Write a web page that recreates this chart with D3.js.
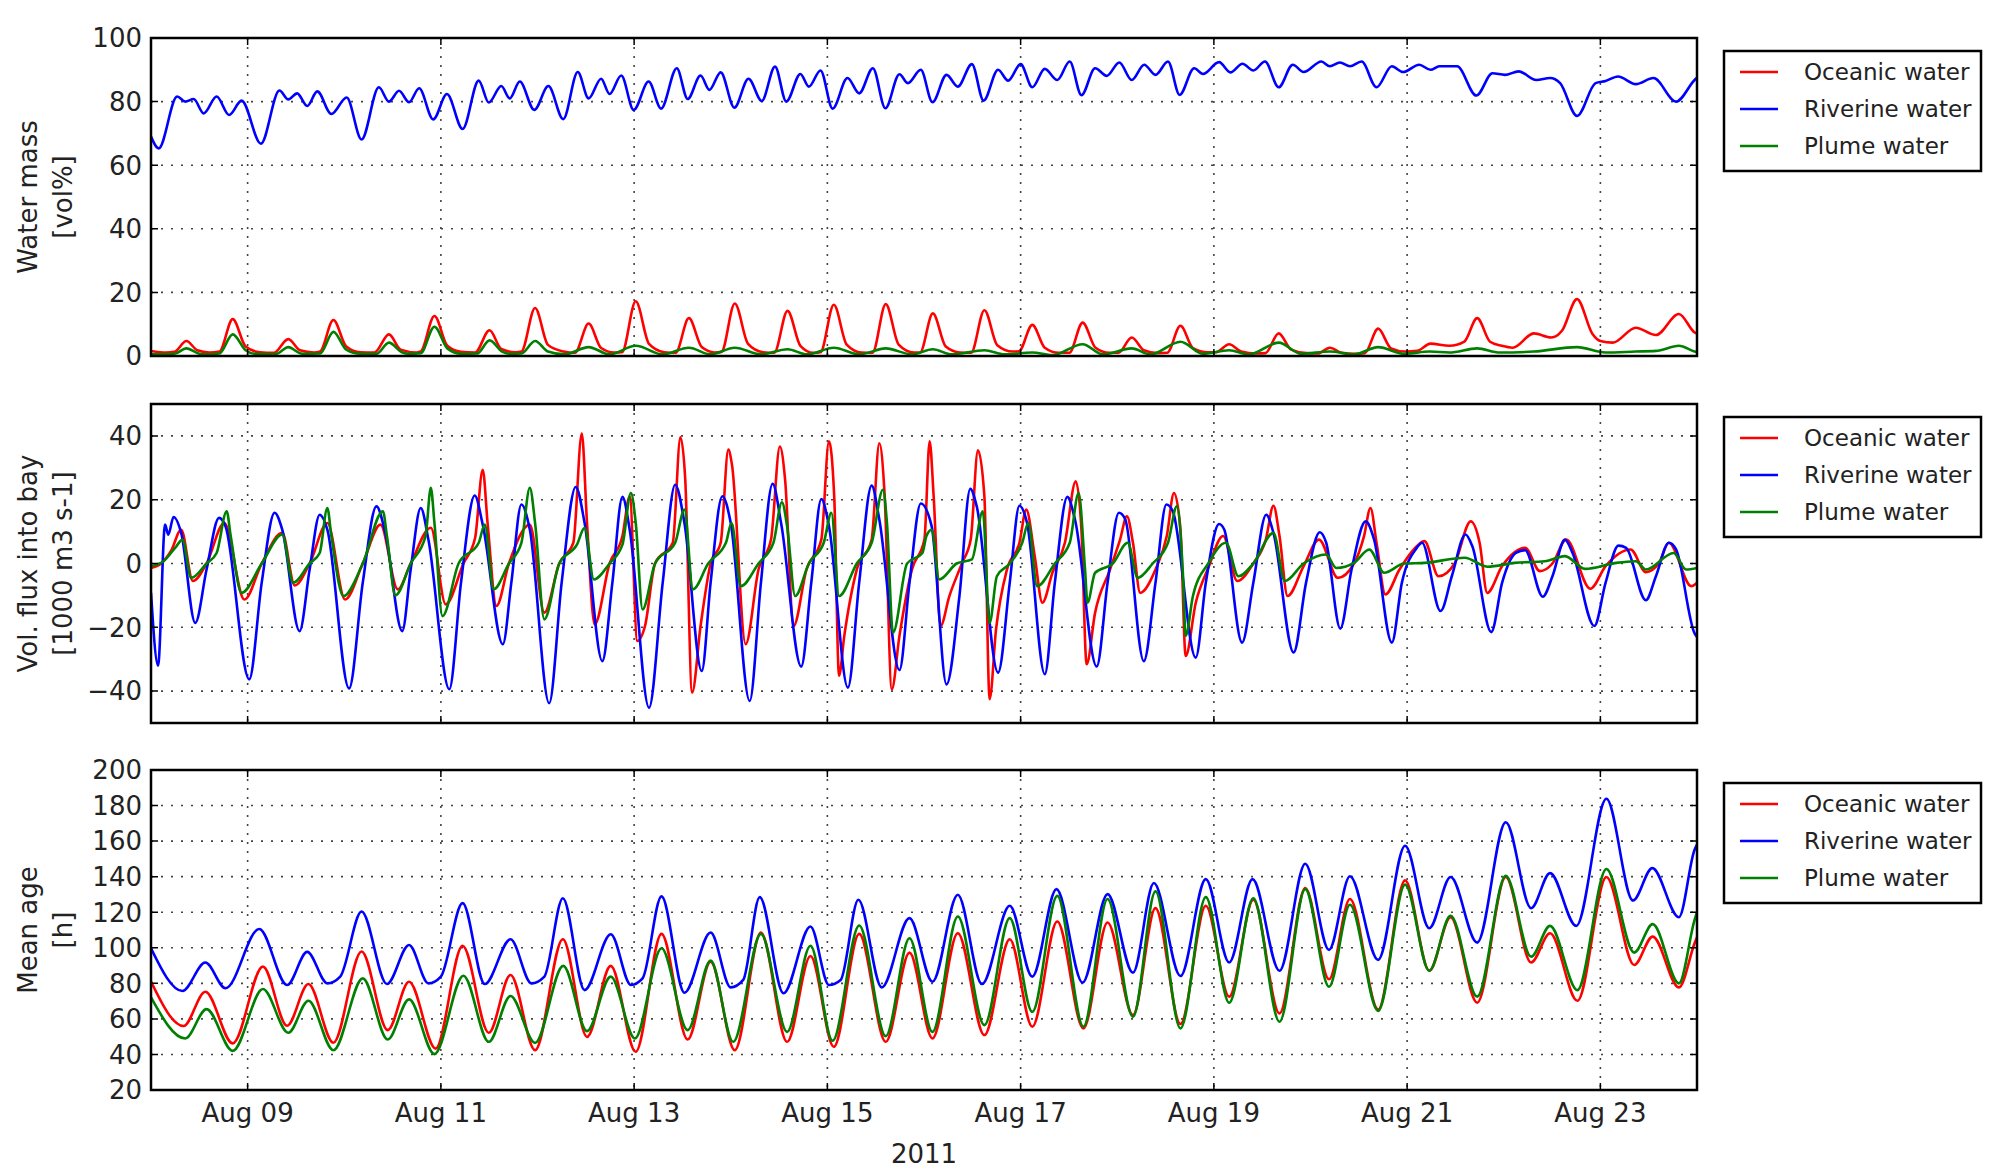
<!DOCTYPE html>
<html>
<head>
<meta charset="utf-8">
<script src="https://cdn.jsdelivr.net/npm/d3@7"></script>
<style>
  body { margin: 0; background: #fff; }
  text { font-family: "DejaVu Sans", sans-serif; fill: #222; }
</style>
</head>
<body>
<script>
// hours since 2011-08-08 00:00 UTC, value
const oceanicMass = [[0,1.6],[3.8,1.1],[5.8,1.3],[8.8,4.7],[11.5,1.8],[14.5,1.1],[17,1.4],[20.3,11.6],[23.5,3],[27,1.2],[30.5,1],[34.1,5.3],[37,1.8],[40.5,1.1],[42,1.4],[45.3,11.3],[48.5,3],[52,1.2],[55.5,1.1],[59.1,6.8],[62,2],[66,1.1],[67,1.4],[70.4,12.6],[73.6,3.2],[77,1.3],[80.5,1.1],[84.1,8.1],[87,2.2],[90.5,1.2],[92,1.4],[95.4,15.1],[98.6,3.5],[102.5,1.4],[105.3,1],[108.7,10.2],[111.8,2.5],[115,1.1],[117,1.2],[120.4,17.2],[123.7,3.8],[127.5,1.2],[130.3,1],[133.6,11.9],[136.8,2.8],[140,1.1],[141.7,1.3],[145,16.5],[148.3,3.8],[152,1.2],[154.8,1],[158.1,14.2],[161.3,3.2],[164.5,1],[166.3,1.2],[169.6,16.1],[172.8,3.6],[176.5,1.1],[179.2,1],[182.5,16.3],[185.7,3.6],[189.5,1.1],[191,1.1],[194.2,13.4],[197.4,3],[201,1.1],[203.7,1],[207,14.4],[210.2,3.4],[214,1.4],[215.6,1.5],[218.9,9.8],[222,2.6],[225.5,1],[228.1,1],[231.4,10.5],[234.6,2.6],[238,1],[240.3,1],[243.6,5.8],[246.6,1.8],[250,0.9],[252.4,1],[255.7,9.5],[258.8,2.5],[262.5,1.2],[264.5,1.2],[267.8,3.7],[270.8,1.4],[274.5,0.8],[276.8,0.9],[280.1,7.1],[283.2,2],[287,0.9],[289.8,0.8],[292.8,2.6],[295.8,1],[299,0.7],[301.5,0.9],[304.8,8.6],[308,2.4],[311.5,1.4],[314.5,1.6],[317.8,3.9],[322.5,3.2],[326.2,4.5],[329.4,11.9],[332.6,4.5],[335.5,3.2],[338.2,2.6],[343.5,7.1],[347.8,5.8],[350.5,8],[354.2,17.9],[358,7],[360,4.7],[363.1,4.2],[368.8,8.9],[373.8,6.6],[379.5,13.2],[383.4,7.4],[384,7]];
const riverineMass = [[0,69],[1.9,65.3],[6.5,81.6],[8.5,80],[10.6,80.8],[13.1,76.3],[16.3,81.6],[19.4,75.8],[22.5,80.3],[27.3,66.8],[31.9,83.5],[34.1,80.7],[36.3,82.6],[38.8,78.6],[41.3,83.2],[44.8,76.1],[48.6,81.3],[52.3,68.1],[56.6,84.5],[59.1,80],[61.6,83.4],[64.1,79.8],[66.6,84.2],[70.1,74.4],[73.5,82.4],[77.4,71.4],[81.4,86.6],[83.9,79.7],[87,84.9],[89.1,81],[91.6,86.3],[95.2,77.4],[98.7,84.9],[102.4,74.5],[106,89.3],[108.7,81],[111.8,87.2],[113.9,82.4],[116.8,88.2],[119.9,77.4],[123.6,86.3],[126.7,77.8],[130.6,90.5],[133.3,80.8],[136.5,88.2],[138.7,83.7],[141.5,89.2],[144.9,78.1],[148.4,87.2],[151.7,80.2],[155,91],[157.8,80],[161.3,88.7],[163.4,84.7],[166.3,89.8],[169.3,77.8],[173,87.4],[175.9,82.6],[179.3,90.5],[182.4,77.9],[185.9,88.6],[188,85.8],[191.2,90],[194.1,79.8],[197.6,88.4],[200.4,84.7],[203.9,91.8],[206.8,80.3],[210.4,90],[212.9,86.6],[216,91.8],[218.9,84.5],[222,90.3],[225.1,86.8],[228.2,92.6],[231.1,82],[234.5,90.5],[237.4,88.1],[240.5,92.3],[243.6,86.8],[246.7,91.6],[249.5,88.4],[252.6,92.6],[255.5,82.1],[259.1,90.5],[261.3,88.7],[265.3,92.4],[268.1,89.2],[271.1,91.9],[273.8,89.8],[276.7,92.6],[280.1,84.5],[283.6,91.6],[286.3,89.3],[290.7,92.6],[292.8,91.1],[295.3,92.3],[297.8,91.1],[300.7,92.6],[304.4,84.5],[308.2,91.1],[311,89.3],[315,91.6],[317.8,90],[320,91.1],[324.4,91.1],[329.2,81.9],[333.2,88.9],[336.3,88.4],[339.7,89.5],[344.1,86.8],[347.5,87.4],[350,85.8],[354.2,75.5],[358.8,85.8],[361.3,86.5],[364.4,87.9],[368.8,85.5],[373.2,87.4],[378.8,80],[383.4,86.8],[384,87.5]];
const plumeMass = [[0,0.5],[5.8,0.7],[8.8,2.4],[12,0.7],[13.1,0.5],[17,0.8],[20.3,6.8],[23.5,1.8],[25.7,0.7],[31,0.6],[34.1,2.8],[37,0.9],[38.2,0.7],[42,0.8],[45.3,7.6],[48.5,2],[52,0.7],[56,0.7],[59.1,4.2],[62.3,1.2],[63.9,0.7],[67,0.9],[70.4,9.2],[73.6,2.4],[77,0.7],[81,0.8],[84.1,4.9],[87.2,1.4],[89.1,0.7],[92,0.8],[95.4,4.7],[98.6,1.4],[102.7,0.5],[108.7,2.8],[113.9,0.5],[120.4,3.2],[127.1,0.5],[133.6,2.6],[139,0.5],[145,2.6],[151.5,0.5],[158.1,2.1],[163,0.5],[169.6,2.6],[175.9,0.5],[182.5,2.4],[189,0.5],[194.2,2.1],[198.9,0.5],[207,1.8],[212,0.5],[218.9,1.1],[223.9,0.3],[231.4,3.7],[236.4,0.5],[243.6,2.4],[248.2,0.5],[255.7,4.5],[261.3,0.7],[267.8,1.8],[272.6,0.5],[280.1,4.2],[285.7,0.7],[292.8,1.4],[298.8,0.5],[304.8,2.8],[311.3,0.7],[317.6,1.4],[322.5,1.1],[329.4,2.4],[335,1.1],[343.5,1.4],[354.2,2.8],[361.3,1.1],[368.8,1.4],[373.8,1.6],[379.5,3.2],[383.4,1.4],[384,1.2]];

const oceanicFlux = [[0,-1.4],[2.5,0],[5,4],[7.5,10.6],[10.4,-5.5],[13.8,0],[18.2,12.7],[23.2,-11.3],[27.5,0],[32.6,9.6],[35.7,-6.9],[39.4,0],[43.8,12.7],[48.2,-11.3],[52.6,0],[57,12.2],[61.3,-8.1],[64.5,0],[69.5,11.2],[73.2,-12.8],[77.6,0],[80.5,8],[82.4,29.4],[83.6,12.7],[85.8,-13.3],[88.9,0],[94.1,12.2],[97.7,-15.4],[101.4,0],[104.9,6.5],[107,40.7],[108.3,12.7],[110.2,-19.1],[113.9,0],[117.1,8.6],[118.9,21],[120.8,-24.3],[122.7,-19.6],[125.2,0],[129.6,6.5],[131.5,39.6],[132.7,26.3],[134.4,-40.5],[136.5,-19.6],[139,0],[141.5,6.5],[143.4,35.7],[144.3,31],[147.7,-25.3],[150.9,-1.9],[154,7.5],[156.2,36.7],[157.5,26.3],[159.6,-19.6],[162.8,-1.9],[166.5,7.5],[168.4,38.3],[169.7,21],[170.9,-35.2],[172.2,-22.7],[175.3,-1.9],[179,7.5],[180.9,37.7],[182.2,22],[184,-39.4],[185.9,-22.7],[189,-1.9],[192.1,7.5],[193.4,38.3],[194.4,21],[196.1,-19.6],[198.3,-10.2],[201.4,0],[203.6,7.5],[205.4,35.5],[207,21],[208.3,-42.5],[209.9,-20.6],[212.6,-1.9],[215.7,6.5],[217.4,16.9],[219.5,2.3],[221.4,-12.3],[223.9,-2.9],[227,6.5],[229.7,25.8],[231.1,10.6],[232.4,-31.6],[234.5,-15.4],[238.2,-1.9],[240.7,7.5],[242.4,14.8],[243.9,6.5],[245.7,-9.2],[249.5,-1.9],[252.3,8.6],[254.1,22.1],[255.7,10.6],[257,-29],[259.5,-12.3],[262.6,-1.4],[266.3,8.6],[269.8,-5.5],[273.8,0],[276.9,7.5],[278.8,18.1],[280.3,8.6],[282.3,-10.2],[286.3,-0.8],[290.1,7.5],[294.8,-4.5],[298.8,0],[301.3,8.6],[302.9,17.4],[304.4,6.5],[306.6,-9.7],[310.1,-1.9],[314.4,5.4],[316.3,7],[319.8,-4],[323.8,0],[327.8,13.2],[330,6.5],[331.9,-9.2],[335.6,-0.8],[341.3,4.9],[345,-2.4],[348.1,0],[351.5,7.5],[357.5,-7.9],[361.3,-0.8],[367.5,4.4],[371.3,-2.7],[374.5,0],[377,6.5],[382.6,-7.1],[384,-6]];
const riverineFlux = [[0,-9.2],[1.75,-32],[3.5,12.2],[4.3,9],[5.6,14.6],[7.5,9.6],[11,-18.6],[13.8,-1.9],[16.9,14.3],[18.5,11.7],[24.4,-36.3],[27.5,-6],[30.7,15.9],[32.6,10.6],[36.9,-21.2],[39.4,-1.9],[41.9,15.3],[43.8,10.6],[49.2,-39.2],[52.6,-6],[56,17.9],[58.2,9.6],[62.4,-21.2],[64.5,-1.9],[67,17.4],[68.9,7.5],[74.1,-39.4],[77,-6],[80.4,21.3],[82.4,12.2],[87.4,-25.3],[89.5,-6],[92,18.5],[94.1,10.6],[98.9,-43.8],[102,-6],[105.5,24],[107.7,12.7],[112.1,-30.6],[114.6,-6],[117.1,20.9],[118.9,10.6],[123.7,-45.2],[127.1,-6],[130.2,24.7],[132.5,12.7],[136.8,-33.7],[139,-6],[141.9,21.1],[144,12.7],[148.7,-43.1],[151.5,-6],[154.4,25],[156.5,12.7],[161.5,-32.3],[164,-6],[166.5,20.2],[168.4,11.7],[173.1,-38.9],[175.9,-6],[179,24.4],[180.9,13.8],[185.9,-33.4],[188.4,-6],[191.2,18.8],[193.9,11.7],[197.6,-37.9],[200.8,-10.2],[203.5,23.4],[205.1,17.9],[210.4,-34.2],[213.3,-6],[215.7,18.1],[217.6,12.7],[222,-34.7],[224.5,-6],[227.6,20.9],[229.5,13.8],[234.9,-32.3],[237.6,-6],[240.4,15.9],[242,13.8],[246.6,-30.6],[249.5,-6],[252.2,18.5],[253.8,16.4],[259.5,-29.5],[262,-6],[265.3,12.4],[266.6,10.6],[271,-24.8],[273.8,-6],[277,15.3],[278.8,9.6],[283.8,-27.9],[286.9,-6],[290.3,9.8],[291.9,6.5],[295.4,-20.4],[298.2,-1.9],[301.7,13.2],[303.8,7.5],[308.2,-24.8],[310.7,-6],[314.4,4.9],[315.7,6.5],[320.3,-14.9],[323.1,-4],[326.5,9.1],[328.2,5.4],[332.9,-21.5],[335.6,-6],[339,3.3],[341.3,4.2],[345.7,-10.4],[348.1,-4],[351.2,7.5],[353.1,3.3],[358.5,-19.6],[361.3,-6],[364.5,5.6],[366.4,4.9],[371.3,-11.5],[373.8,-4],[377,6.5],[378.8,4.4],[383.4,-21.9],[384,-23]];
const plumeFlux = [[0,-0.8],[3.1,0.7],[6.3,5.4],[7.8,7.5],[10,-4.5],[13.8,0],[16.3,3.3],[18.8,16.4],[19.8,8.6],[22.5,-9.2],[27.5,0],[32.6,9.1],[35.3,-6],[39.4,0],[41.9,3.3],[43.8,17.4],[44.8,8.6],[47.8,-10.2],[52.6,0],[57.6,16.4],[58.6,8.6],[60.7,-10],[64.5,0],[68.2,8.6],[69.5,23.7],[70.4,12.7],[72.4,-16.5],[76.4,0],[81.4,6.5],[82.9,12.2],[85.1,-8.1],[88.9,0],[92,6.5],[94.1,23.7],[95.4,12.7],[97.7,-17.5],[101.4,0],[105.8,5.9],[107.7,11.2],[110,-5],[113.9,0],[117.1,5.9],[119.2,22.1],[120.4,12.7],[122.1,-14.4],[125.2,0],[130.2,6.5],[132.5,16.9],[134.6,-8.1],[138.4,0],[142.8,6.5],[144.2,12.7],[146.5,-7.1],[150.9,0],[154.6,6.5],[156.7,19.2],[158,11.7],[160,-10.2],[163.4,0],[167.1,6.5],[169,15.9],[170.9,-10.2],[175.3,0],[179,6.5],[181.8,23.1],[182.8,12.7],[184.3,-21.7],[187.8,0],[191.6,3.3],[192.6,8.6],[193.9,10.6],[195.8,-5],[200.1,0],[203.9,1.3],[206.6,16.4],[208.3,-18.6],[210.1,-4],[213.3,0],[216.4,6.5],[217.9,12.7],[220.1,-7.1],[224.5,0],[228.2,6.5],[230.4,22.1],[232,-1.9],[232.6,-12.3],[234.5,-2.9],[238.9,0],[242.6,6.5],[245.1,-4.5],[248.8,0],[252.6,6.5],[254.8,17.9],[256.3,-2.9],[257,-22.7],[258.8,-10.2],[262.6,0],[267,6.5],[270.1,-4],[273.8,0],[278.8,9.6],[281.6,-5.5],[286.3,0],[291.9,2.8],[294.4,-1.4],[298.8,0.2],[302.6,4.4],[306.3,-2.9],[311.3,0],[316.3,0.2],[326.3,1.8],[331.9,-1],[338.7,0.2],[346.2,0.7],[351.2,2.3],[356.2,-1.7],[363.9,0.2],[368.8,0.7],[371.3,-1.9],[378.2,3.3],[381.3,-1.9],[384,-1.4]];

const oceanicAge = [[0,81],[8.1,56],[13.5,75.3],[20.3,46.2],[27.8,89.4],[33.8,56.1],[39.1,79.6],[45.3,46.6],[52.3,97.9],[58.8,53.7],[64.1,80.9],[70.7,43.3],[77.4,101.1],[83.9,52.2],[89.3,84.7],[95.4,42.4],[102.3,104.8],[108.3,49.9],[114.2,89.8],[120.4,41.5],[126.8,107.8],[133.3,48.4],[139,92.2],[145,42.4],[151.5,108.6],[158,47.1],[163.8,95.4],[169.6,44.3],[175.9,107.8],[182.5,47.1],[188.4,97.3],[194.1,49],[200.4,108.2],[207,50.9],[213.3,104.8],[218.9,55.6],[225.1,114.8],[231.6,54.6],[237.6,114.2],[243.9,62.1],[249.5,122.3],[255.7,57.1],[262,123.6],[267.8,72.5],[273.8,127],[280.3,63.1],[286.7,133.6],[292.6,82.3],[297.8,127.4],[304.8,65.3],[311.5,137.9],[317.5,87.1],[322.8,117.2],[329.4,69.1],[336.5,139.8],[342.8,91.7],[347.5,108.2],[354.3,70.2],[361.5,139.8],[368.4,90.3],[373,106.3],[379.5,77.7],[383.4,102.6],[384,106]];
const riverineAge = [[0,99.7],[7.8,75.7],[13.5,91.7],[18.5,77.2],[26.9,110.6],[33.8,79.1],[38.8,97.7],[43.8,80],[47,83.8],[52.3,120.4],[58.6,79.6],[64.1,101.6],[68.9,80],[72,83.8],[77.4,125.1],[82.9,79.6],[89.3,104.8],[94.5,80],[97.7,83.8],[102.3,127.9],[107.7,76.2],[114.2,107.6],[119.2,79.1],[122.1,82.8],[126.8,128.9],[132.5,74.7],[139,108.6],[144,77.7],[147.1,81.9],[151.2,128.5],[157.1,74.4],[163.8,112],[168.4,79.1],[171.3,81.9],[175.7,127],[181.5,77.7],[188.4,116.7],[194.1,80.9],[200.4,129.8],[206.4,79.6],[213.3,123.6],[218.9,83.8],[224.9,133],[231.4,80.4],[237.6,130.2],[243.9,86],[249.1,136.4],[255.7,84.1],[262,138.6],[267.8,91.7],[273.6,138.6],[280.3,87.1],[286.7,147.3],[292.6,98.8],[297.8,140.2],[304.8,93.2],[311.5,157.4],[317.5,111],[322.8,139.8],[329.4,102.9],[336.5,170.6],[342.8,122.3],[347.5,142],[354,112.3],[361.5,183.8],[368.1,126.6],[372.9,144.8],[379.5,117.2],[383.4,155.2],[384,158]];
const plumeAge = [[0,72.1],[8.5,49],[13.8,65.5],[20.3,42],[27.8,76.8],[34.1,52.2],[39.1,70.2],[45.3,42.4],[52.6,82.8],[58.8,48.4],[64.1,71],[70.4,40.2],[77.6,84.3],[83.9,47.1],[89.3,72.9],[95.4,46.5],[102.4,89.8],[108.3,53.1],[114.2,83.8],[120.2,49],[126.8,99.7],[133.3,53.7],[139,92.8],[144.6,47.1],[151.5,107.8],[158,52.7],[163.8,101.1],[169.3,47.7],[175.9,112.5],[182.5,50.3],[188.4,105.4],[194.1,52.7],[200.4,117.6],[207,56.5],[213.3,116.7],[218.9,64],[225.1,129.2],[231.6,55.6],[237.6,127.4],[243.9,61.2],[249.5,131.7],[255.7,54.6],[262,128.5],[267.8,69.1],[273.8,127.9],[280.3,58.4],[286.7,133],[292.6,78.1],[297.8,124.2],[304.8,64.5],[311.5,135.5],[317.5,87.1],[322.8,118],[329.4,72.5],[336.5,140.5],[342.8,95],[347.5,112.3],[354.3,76.2],[361.5,144.3],[368.4,97.3],[373,113.3],[379.5,80],[383.4,115.7],[384,120]];

const seriesNames = ['Oceanic water', 'Riverine water', 'Plume water'];
const seriesColors = ['#ff0000', '#0000ff', '#008000'];

const massTicks = [0, 20, 40, 60, 80, 100];
const fluxTicks = [-40, -20, 0, 20, 40];
const ageTicks = [20, 40, 60, 80, 100, 120, 140, 160, 180, 200];
const dateTicks = ['2011-08-09', '2011-08-11', '2011-08-13', '2011-08-15', '2011-08-17', '2011-08-19', '2011-08-21', '2011-08-23'];
const xLabel = '2011';

const START = Date.UTC(2011, 7, 8);
const toDate = h => new Date(START + h * 3600000);

const LEFT = 151, RIGHT = 1697;

const panels = [
  { top: 38, bottom: 356, domain: [0, 100], ticks: massTicks, label: ['Water mass', '[vol%]'], series: [oceanicMass, riverineMass, plumeMass] },
  { top: 404, bottom: 723, domain: [-50, 50], ticks: fluxTicks, label: ['Vol. flux into bay', '[1000 m3 s-1]'], series: [oceanicFlux, riverineFlux, plumeFlux] },
  { top: 770, bottom: 1090, domain: [20, 200], ticks: ageTicks, label: ['Mean age', '[h]'], series: [oceanicAge, riverineAge, plumeAge] }
];

const svg = d3.select('body').append('svg')
  .attr('width', 2000)
  .attr('height', 1169);

const x = d3.scaleUtc()
  .domain([toDate(0), toDate(384)])
  .range([LEFT, RIGHT]);

const tickDates = dateTicks.map(d => new Date(d + 'T00:00:00Z'));
const fmt = d3.utcFormat('%b %d');
const numFmt = v => v < 0 ? '\u2212' + Math.abs(v) : String(v);

panels.forEach((p, pi) => {
  const y = d3.scaleLinear().domain(p.domain).range([p.bottom, p.top]);
  const g = svg.append('g');

  g.append('clipPath').attr('id', 'clip' + pi)
    .append('rect')
    .attr('x', LEFT).attr('y', p.top)
    .attr('width', RIGHT - LEFT).attr('height', p.bottom - p.top);

  // dotted grid
  g.selectAll('.hgrid')
    .data(p.ticks)
    .join('line')
    .attr('x1', LEFT).attr('x2', RIGHT)
    .attr('y1', d => y(d)).attr('y2', d => y(d))
    .style('stroke', '#444')
    .style('stroke-width', 1.6)
    .style('stroke-dasharray', '2,8');

  g.selectAll('.vgrid')
    .data(tickDates)
    .join('line')
    .attr('x1', d => x(d)).attr('x2', d => x(d))
    .attr('y1', p.top).attr('y2', p.bottom)
    .style('stroke', '#444')
    .style('stroke-width', 1.6)
    .style('stroke-dasharray', '2,7');

  // lines
  const line = d3.line()
    .x(d => x(toDate(d[0])))
    .y(d => y(d[1]))
    .curve(d3.curveMonotoneX);

  g.append('g')
    .attr('clip-path', 'url(#clip' + pi + ')')
    .selectAll('path')
    .data(p.series)
    .join('path')
    .attr('d', d => line(d))
    .style('fill', 'none')
    .style('stroke', (d, i) => seriesColors[i])
    .style('stroke-width', 2.6)
    .style('stroke-linejoin', 'round');

  // inward ticks
  const tl = 7;
  g.selectAll('.ytl')
    .data(p.ticks)
    .join('path')
    .attr('d', d => `M${LEFT},${y(d)}h${tl}M${RIGHT},${y(d)}h${-tl}`)
    .style('stroke', '#000')
    .style('stroke-width', 1.5);

  g.selectAll('.xtl')
    .data(tickDates)
    .join('path')
    .attr('d', d => `M${x(d)},${p.bottom}v${-tl}M${x(d)},${p.top}v${tl}`)
    .style('stroke', '#000')
    .style('stroke-width', 1.5);

  // frame
  g.append('rect')
    .attr('x', LEFT).attr('y', p.top)
    .attr('width', RIGHT - LEFT).attr('height', p.bottom - p.top)
    .style('fill', 'none')
    .style('stroke', '#000')
    .style('stroke-width', 2.5);

  // y tick labels
  g.selectAll('.ylab')
    .data(p.ticks)
    .join('text')
    .attr('x', LEFT - 9)
    .attr('y', d => y(d))
    .attr('dy', '0.36em')
    .style('text-anchor', 'end')
    .style('font-size', '26px')
    .text(d => numFmt(d));

  // y axis label (two lines)
  const cy = (p.top + p.bottom) / 2;
  g.selectAll('.ytitle')
    .data(p.label)
    .join('text')
    .attr('transform', (d, i) => `translate(${28 + i * 35},${cy}) rotate(-90)`)
    .attr('dy', '0.36em')
    .style('text-anchor', 'middle')
    .style('font-size', '26px')
    .text(d => d);

  // legend
  const lx = 1724, ly = p.top + 13;
  const lg = g.append('g');
  lg.append('rect')
    .attr('x', lx).attr('y', ly)
    .attr('width', 257).attr('height', 120)
    .style('fill', '#fff')
    .style('stroke', '#000')
    .style('stroke-width', 2.5);

  lg.selectAll('line')
    .data(seriesNames)
    .join('line')
    .attr('x1', lx + 16).attr('x2', lx + 54)
    .attr('y1', (d, i) => ly + 21 + i * 37)
    .attr('y2', (d, i) => ly + 21 + i * 37)
    .style('stroke', (d, i) => seriesColors[i])
    .style('stroke-width', 2.4);

  lg.selectAll('text')
    .data(seriesNames)
    .join('text')
    .attr('x', lx + 80)
    .attr('y', (d, i) => ly + 21 + i * 37)
    .attr('dy', '0.36em')
    .style('font-size', '23px')
    .text(d => d);

  if (pi === panels.length - 1) {
    g.selectAll('.xlab')
      .data(tickDates)
      .join('text')
      .attr('x', d => x(d))
      .attr('y', p.bottom + 32)
      .style('text-anchor', 'middle')
      .style('font-size', '26px')
      .text(d => fmt(d));

    g.append('text')
      .attr('x', (LEFT + RIGHT) / 2)
      .attr('y', p.bottom + 73)
      .style('text-anchor', 'middle')
      .style('font-size', '26px')
      .text(xLabel);
  }
});
</script>
</body>
</html>
